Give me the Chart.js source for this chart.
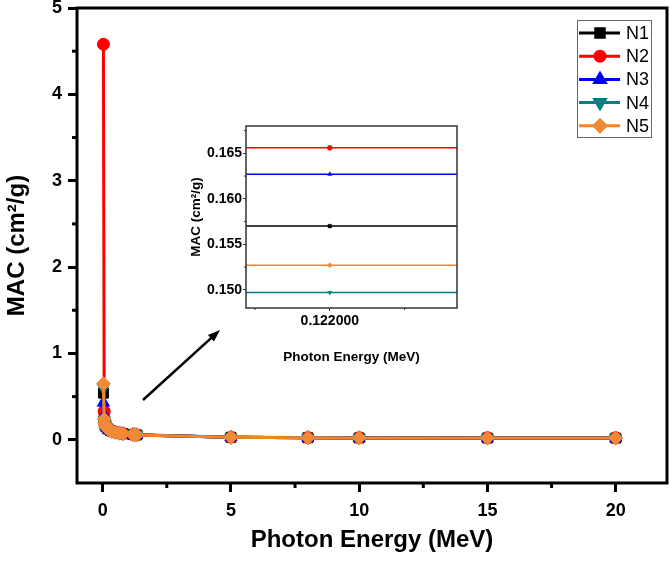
<!DOCTYPE html>
<html>
<head>
<meta charset="utf-8">
<script src="https://cdn.jsdelivr.net/npm/chart.js@4.4.1/dist/chart.umd.min.js"></script>
<style>
  html, body { margin: 0; padding: 0; background: #fff; }
  #wrap { position: relative; width: 670px; height: 561px; }
  #mainChart { position: absolute; left: 0; top: 0; }
  #insetChart { position: absolute; left: 185px; top: 115px; }
</style>
</head>
<body>
<div id="wrap">
  <canvas id="mainChart" width="670" height="561"></canvas>
  <canvas id="insetChart" width="280" height="255"></canvas>
</div>
<script>
// photon energies (MeV) and mass attenuation coefficients (cm2/g)
var energy = [0.03, 0.06, 0.08, 0.1, 0.122, 0.2, 0.3, 0.356, 0.5, 0.662, 0.8, 1.173, 1.25, 1.33, 5, 8, 10, 15, 20];
var macN1 = [0.54, 0.25, 0.195, 0.172, 0.1570, 0.127, 0.108, 0.101, 0.088, 0.078, 0.071, 0.061, 0.059, 0.057, 0.029, 0.024, 0.022, 0.021, 0.020];
var macN2 = [4.58, 0.33, 0.225, 0.186, 0.1656, 0.131, 0.110, 0.102, 0.088, 0.078, 0.071, 0.061, 0.059, 0.057, 0.030, 0.026, 0.025, 0.024, 0.024];
var macN3 = [0.43, 0.28, 0.215, 0.181, 0.1627, 0.130, 0.110, 0.102, 0.089, 0.079, 0.072, 0.062, 0.060, 0.058, 0.030, 0.025, 0.023, 0.022, 0.021];
var macN4 = [0.60, 0.23, 0.180, 0.164, 0.1497, 0.124, 0.106, 0.099, 0.087, 0.077, 0.070, 0.060, 0.058, 0.056, 0.029, 0.024, 0.022, 0.020, 0.020];
var macN5 = [0.65, 0.24, 0.186, 0.168, 0.1527, 0.125, 0.107, 0.100, 0.087, 0.078, 0.071, 0.061, 0.059, 0.057, 0.029, 0.024, 0.022, 0.021, 0.020];

var seriesNames = ['N1', 'N2', 'N3', 'N4', 'N5'];
var seriesData = [macN1, macN2, macN3, macN4, macN5];
var lineColors = ['#000000', '#ff0000', '#0000ff', '#008080', '#fb8223'];
var markColors = ['#000000', '#ff0000', '#0000ff', '#008080', '#f08a35'];
var markStyles = ['rect', 'circle', 'triangle', 'triangle', 'rectRot'];
var markRotation = [0, 0, 0, 180, 0];
var markRadius = [7, 6, 7, 7, 7];

var xTicks = [0, 5, 10, 15, 20];
var xMinor = [2.5, 7.5, 12.5, 17.5];
var yTicks = [0, 1, 2, 3, 4, 5];
var yMinor = [0.5, 1.5, 2.5, 3.5, 4.5];

// inset zoom around 0.122 MeV
var insetEnergy = 0.122;
var insetXTicks = [0.122];
var insetXMinor = [0.1215, 0.1225];
var insetYTicks = [0.150, 0.155, 0.160, 0.165];
var insetYMinor = [0.1525, 0.1575, 0.1625, 0.1675];
var insetXMin = 0.12144, insetXMax = 0.12285;

var FONT = '"Liberation Sans", Arial, sans-serif';

function pts(vals) {
  return energy.map(function (e, i) { return { x: e, y: vals[i] }; });
}

// kill the extra room chart.js keeps for edge labels
function fitX(h) {
  return function (s) { s.height = h; s.paddingLeft = 0; s.paddingRight = 0; };
}
function fitY(w) {
  return function (s) { s.width = w; s.paddingTop = 0; s.paddingBottom = 0; };
}

// frame around plot area
const framePlugin = {
  id: 'frame',
  afterDraw(chart, args, opts) {
    var a = chart.chartArea, ctx = chart.ctx;
    ctx.save();
    ctx.strokeStyle = opts.color || '#000';
    ctx.lineWidth = opts.width || 3;
    ctx.strokeRect(a.left, a.top, a.right - a.left, a.bottom - a.top);
    ctx.restore();
  }
};

// minor ticks drawn outside the axes
const minorTickPlugin = {
  id: 'minorTicks',
  afterDraw(chart, args, opts) {
    var ctx = chart.ctx, a = chart.chartArea;
    ctx.save();
    ctx.strokeStyle = opts.color || '#000';
    ctx.lineWidth = opts.width || 2;
    (opts.x || []).forEach(function (v) {
      var px = chart.scales.x.getPixelForValue(v);
      ctx.beginPath(); ctx.moveTo(px, a.bottom); ctx.lineTo(px, a.bottom + opts.len); ctx.stroke();
    });
    (opts.y || []).forEach(function (v) {
      var py = chart.scales.y.getPixelForValue(v);
      ctx.beginPath(); ctx.moveTo(a.left, py); ctx.lineTo(a.left - opts.len, py); ctx.stroke();
    });
    ctx.restore();
  }
};

function drawMarker(ctx, i, x, y, r) {
  ctx.fillStyle = markColors[i];
  ctx.strokeStyle = markColors[i];
  if (Chart.helpers && Chart.helpers.drawPoint) {
    Chart.helpers.drawPoint(ctx, { pointStyle: markStyles[i], rotation: markRotation[i], radius: r, borderWidth: 1 }, x, y);
  } else {
    ctx.beginPath(); ctx.arc(x, y, r, 0, Math.PI * 2); ctx.fill();
  }
}

const legendPlugin = {
  id: 'boxLegend',
  afterDraw(chart) {
    var ctx = chart.ctx;
    ctx.save();
    ctx.strokeStyle = '#666';
    ctx.lineWidth = 1;
    ctx.strokeRect(577.5, 20.5, 74, 117);
    ctx.font = '18px ' + FONT;
    ctx.textBaseline = 'middle';
    ctx.textAlign = 'left';
    seriesNames.forEach(function (n, i) {
      var y = 33 + i * 23.2;
      ctx.strokeStyle = lineColors[i];
      ctx.lineWidth = 3;
      ctx.beginPath(); ctx.moveTo(579, y); ctx.lineTo(620, y); ctx.stroke();
      drawMarker(ctx, i, 600, y, i === 1 ? 5 : 6);
      ctx.fillStyle = '#000';
      ctx.fillText(n, 626, y + 1);
    });
    ctx.restore();
  }
};

const arrowPlugin = {
  id: 'arrow',
  afterDraw(chart) {
    var ctx = chart.ctx;
    var x1 = 143, y1 = 400, x2 = 220, y2 = 330;
    var ang = Math.atan2(y2 - y1, x2 - x1);
    ctx.save();
    ctx.strokeStyle = '#000'; ctx.fillStyle = '#000'; ctx.lineWidth = 2.5;
    ctx.beginPath(); ctx.moveTo(x1, y1);
    ctx.lineTo(x2 - 8 * Math.cos(ang), y2 - 8 * Math.sin(ang)); ctx.stroke();
    ctx.beginPath();
    ctx.moveTo(x2, y2);
    ctx.lineTo(x2 - 13 * Math.cos(ang - 0.35), y2 - 13 * Math.sin(ang - 0.35));
    ctx.lineTo(x2 - 13 * Math.cos(ang + 0.35), y2 - 13 * Math.sin(ang + 0.35));
    ctx.closePath(); ctx.fill();
    ctx.restore();
  }
};

var mainChart = new Chart(document.getElementById('mainChart'), {
  type: 'line',
  data: {
    datasets: seriesNames.map(function (n, i) {
      return {
        label: n,
        data: pts(seriesData[i]),
        borderColor: lineColors[i],
        backgroundColor: markColors[i],
        borderWidth: 3,
        pointStyle: markStyles[i],
        rotation: markRotation[i],
        pointRadius: markRadius[i],
        pointBorderWidth: 1,
        pointBorderColor: markColors[i],
        tension: 0,
        order: 5 - i
      };
    })
  },
  options: {
    responsive: false,
    animation: false,
    layout: { autoPadding: false, padding: { top: 8, right: 3, left: 0, bottom: 0 } },
    plugins: {
      legend: { display: false },
      tooltip: { enabled: false },
      frame: { width: 3, color: '#000' },
      minorTicks: { x: xMinor, y: yMinor, len: 5, width: 3, color: '#000' }
    },
    scales: {
      x: {
        type: 'linear',
        min: -1, max: 22,
        afterBuildTicks: function (s) { s.ticks = xTicks.map(function (v) { return { value: v }; }); },
        afterFit: fitX(78),
        border: { display: false },
        grid: { drawOnChartArea: false, drawTicks: true, tickLength: 9, lineWidth: 3, tickWidth: 3, tickColor: '#000' },
        ticks: { color: '#000', padding: 8, font: { family: FONT, size: 18, weight: 'bold' }, maxRotation: 0 },
        title: { display: true, text: 'Photon Energy (MeV)', color: '#000', padding: { top: 0, bottom: 6 }, font: { family: FONT, size: 24, weight: 'bold' } }
      },
      y: {
        type: 'linear',
        min: -0.5, max: 5,
        afterBuildTicks: function (s) { s.ticks = yTicks.map(function (v) { return { value: v }; }); },
        afterFit: fitY(77),
        border: { display: false },
        grid: { drawOnChartArea: false, drawTicks: true, tickLength: 9, lineWidth: 3, tickWidth: 3, tickColor: '#000' },
        ticks: { color: '#000', padding: 6, font: { family: FONT, size: 18, weight: 'bold' } },
        title: { display: true, text: 'MAC (cm²/g)', color: '#000', padding: { top: 3, bottom: 0 }, font: { family: FONT, size: 24, weight: 'bold' } }
      }
    }
  },
  plugins: [framePlugin, minorTickPlugin, legendPlugin, arrowPlugin]
});

var idx = energy.indexOf(insetEnergy);
var insetChart = new Chart(document.getElementById('insetChart'), {
  type: 'line',
  data: {
    datasets: seriesNames.map(function (n, i) {
      var v = seriesData[i][idx];
      return {
        label: n,
        data: [{ x: insetXMin, y: v }, { x: insetEnergy, y: v }, { x: insetXMax, y: v }],
        borderColor: lineColors[i],
        backgroundColor: markColors[i],
        borderWidth: 1.5,
        pointStyle: markStyles[i],
        rotation: markRotation[i],
        pointRadius: function (c) { return c.dataIndex === 1 ? 2.5 : 0; },
        pointBorderWidth: 0.5,
        order: 5 - i
      };
    })
  },
  options: {
    responsive: false,
    animation: false,
    layout: { autoPadding: false, padding: { top: 11, right: 8, left: 0, bottom: 0 } },
    plugins: {
      legend: { display: false },
      tooltip: { enabled: false },
      frame: { width: 1.5, color: '#333' },
      minorTicks: { x: insetXMinor, y: insetYMinor, len: 2, width: 1, color: '#333' }
    },
    scales: {
      x: {
        type: 'linear',
        min: insetXMin, max: insetXMax,
        afterBuildTicks: function (s) { s.ticks = insetXTicks.map(function (v) { return { value: v }; }); },
        afterFit: fitX(62),
        border: { display: false },
        grid: { drawOnChartArea: false, drawTicks: true, tickLength: 3, tickWidth: 1, tickColor: '#333' },
        ticks: { color: '#000', padding: 2, font: { family: FONT, size: 14, weight: 'bold' }, maxRotation: 0,
          callback: function (v) { return Number(v).toFixed(6); } },
        title: { display: true, text: 'Photon Energy (MeV)', color: '#000', padding: { top: 0, bottom: 5 }, font: { family: FONT, size: 13.5, weight: 'bold' } }
      },
      y: {
        type: 'linear',
        min: 0.148, max: 0.168,
        afterBuildTicks: function (s) { s.ticks = insetYTicks.map(function (v) { return { value: v }; }); },
        afterFit: fitY(61),
        border: { display: false },
        grid: { drawOnChartArea: false, drawTicks: true, tickLength: 3, tickWidth: 1, tickColor: '#333' },
        ticks: { color: '#000', padding: 1, font: { family: FONT, size: 14, weight: 'bold' },
          callback: function (v) { return Number(v).toFixed(3); } },
        title: { display: true, text: 'MAC (cm²/g)', color: '#000', padding: { top: 3, bottom: 0 }, font: { family: FONT, size: 13.5, weight: 'bold' } }
      }
    }
  },
  plugins: [framePlugin, minorTickPlugin]
});
</script>
</body>
</html>
